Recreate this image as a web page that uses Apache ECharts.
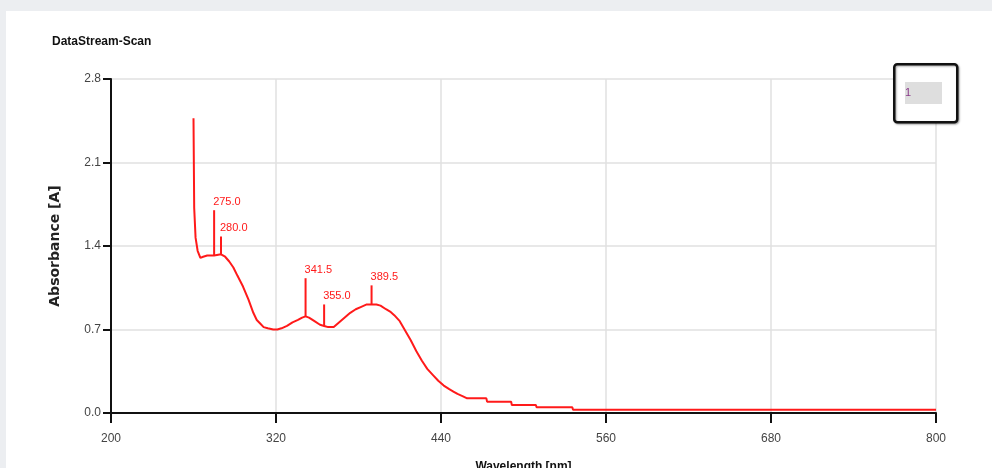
<!DOCTYPE html>
<html>
<head>
<meta charset="utf-8">
<script src="https://cdn.jsdelivr.net/npm/echarts@6/dist/echarts.min.js"></script>
<style>
  html, body { margin: 0; padding: 0; background: #eceef1; }
  #panel { position: absolute; left: 6px; top: 11px; width: 986px; height: 457px; background: #ffffff; }
  #chart { position: absolute; left: 0; top: 0; width: 992px; height: 468px; }
</style>
</head>
<body>
<div id="panel"></div>
<div id="chart"></div>
<script>
// Scan trace: [wavelength nm, absorbance A]
const scanWavelength = [
  260, 260.5, 261.5, 263, 265, 267, 270, 275, 280, 283, 286, 289, 292, 296, 300, 303.5,
  306, 308.5, 311, 314, 318, 321, 324, 328, 332, 336, 339, 341.5, 344, 348, 352, 355,
  358, 362, 366, 370, 374, 378, 382, 386, 389.5, 393, 396, 400, 403, 406, 410, 414,
  418, 422, 426, 430, 434, 438, 442, 446, 449, 452, 456, 459, 473, 473.5, 491, 491.5,
  509, 509.5, 535.5, 536, 800
];
const scanAbsorbance = [
  2.47, 1.72, 1.47, 1.36, 1.30, 1.31, 1.32, 1.32, 1.33, 1.31, 1.27, 1.22, 1.15, 1.06, 0.95, 0.84,
  0.78, 0.75, 0.72, 0.71, 0.70, 0.70, 0.71, 0.73, 0.76, 0.78, 0.80, 0.81, 0.80, 0.77, 0.74, 0.73,
  0.72, 0.72, 0.76, 0.80, 0.84, 0.87, 0.89, 0.91, 0.91, 0.91, 0.90, 0.87, 0.85, 0.82, 0.77, 0.69,
  0.61, 0.52, 0.44, 0.37, 0.32, 0.27, 0.23, 0.20, 0.18, 0.16, 0.14, 0.123, 0.123, 0.095, 0.095, 0.067,
  0.067, 0.048, 0.048, 0.028, 0.028
];

// Picked peaks: position, absorbance at the trace, top of the marker
const peakWavelength = [275.0, 280.0, 341.5, 355.0, 389.5];
const peakAbsorbance = [1.32, 1.33, 0.81, 0.73, 0.91];
const peakMarkerTop  = [1.70, 1.48, 1.13, 0.91, 1.07];

// Axis ticks
const xTicks = [200, 320, 440, 560, 680, 800];
const yTicks = [0.0, 0.7, 1.4, 2.1, 2.8];

const scanData = scanWavelength.map((w, i) => [w, scanAbsorbance[i]]);
const peakData = peakWavelength.map((w, i) => [w, peakAbsorbance[i], peakMarkerTop[i]]);

const sans = '"Liberation Sans", Arial, sans-serif';
const red = '#ff1a1a';

const chart = echarts.init(document.getElementById('chart'));
chart.setOption({
  animation: false,
  backgroundColor: 'transparent',
  title: {
    text: 'DataStream-Scan',
    left: 47, top: 31,
    textStyle: { fontFamily: sans, fontSize: 12, fontWeight: 'bold', color: '#111' }
  },
  grid: { left: 111, right: 56, top: 79, bottom: 55, containLabel: false, outerBoundsMode: 'none' },
  xAxis: {
    type: 'value',
    min: xTicks[0], max: xTicks[xTicks.length - 1], interval: 120,
    name: 'Wavelength [nm]', nameLocation: 'middle', nameGap: 48,
    nameTextStyle: { fontFamily: sans, fontSize: 12, fontWeight: 'bold', color: '#111' },
    axisLine: { lineStyle: { color: '#111', width: 2 } },
    axisTick: { show: true, length: 10, lineStyle: { color: '#111', width: 2 } },
    axisLabel: { fontFamily: sans, fontSize: 12, color: '#444', margin: 20,
      formatter: v => xTicks.includes(v) ? String(v) : '' },
    splitLine: { show: true, lineStyle: { color: '#e0e0e0', width: 1.5 } }
  },
  yAxis: {
    type: 'value',
    min: yTicks[0], max: yTicks[yTicks.length - 1], interval: 0.7,
    name: 'Absorbance [A]', nameLocation: 'middle', nameGap: 49, nameRotate: 90,
    nameTextStyle: { fontFamily: '"DejaVu Sans", sans-serif', fontSize: 14, fontWeight: 'bold', color: '#222' },
    axisLine: { show: true, lineStyle: { color: '#111', width: 2 } },
    axisTick: { show: true, length: 8, lineStyle: { color: '#111', width: 2 } },
    axisLabel: { fontFamily: sans, fontSize: 12, color: '#444', margin: 10,
      formatter: v => v.toFixed(1) },
    splitLine: { show: true, lineStyle: { color: '#e0e0e0', width: 1.5 } }
  },
  series: [
    {
      type: 'line',
      data: scanData,
      showSymbol: false,
      lineStyle: { color: red, width: 2 },
      z: 3
    },
    {
      type: 'custom',
      data: peakData,
      z: 4,
      renderItem: function (params, api) {
        const base = api.coord([api.value(0), api.value(1)]);
        const top = api.coord([api.value(0), api.value(2)]);
        return {
          type: 'group',
          children: [
            {
              type: 'line',
              shape: { x1: base[0], y1: base[1], x2: top[0], y2: top[1] },
              style: { stroke: red, lineWidth: 2 }
            },
            {
              type: 'text',
              x: top[0] - 1, y: top[1] - 3,
              style: {
                text: api.value(0).toFixed(1),
                fill: red, font: '11px ' + sans,
                align: 'left', verticalAlign: 'bottom'
              }
            }
          ]
        };
      }
    }
  ],
  graphic: [
    {
      type: 'rect', left: 893, top: 63,
      shape: { width: 63, height: 58, r: 3 },
      style: { fill: '#fff', stroke: '#111', lineWidth: 2.5,
        shadowBlur: 2, shadowColor: 'rgba(0,0,0,0.35)', shadowOffsetX: 1, shadowOffsetY: 1 },
      z: 10
    },
    {
      type: 'rect', left: 905, top: 82,
      shape: { width: 37, height: 22 },
      style: { fill: '#dedede' },
      z: 11
    },
    {
      type: 'text', left: 905, top: 87,
      style: { text: '1', fill: '#8a3a8a', font: '11px ' + sans },
      z: 12
    }
  ]
});
</script>
</body>
</html>
